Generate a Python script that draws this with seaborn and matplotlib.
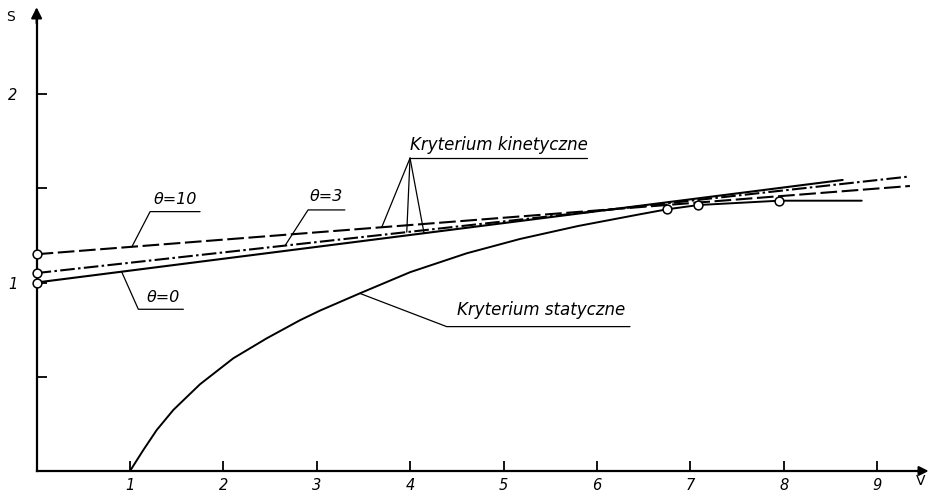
import numpy as np
import matplotlib
matplotlib.use("Agg")
import matplotlib.pyplot as plt
import seaborn as sns

# ---- data ----
theta0_v = [0.0, 8.63]
theta0_s = [1.00, 1.544]
theta3_v = [0.0, 9.32]
theta3_s = [1.05, 1.561]
theta10_v = [0.0, 9.35]
theta10_s = [1.15, 1.512]

static_v = [1.0, 1.142, 1.286, 1.464, 1.749, 2.106, 2.464, 2.82, 3.034, 3.463,
            4.0, 4.605, 5.176, 5.8, 6.46, 6.746, 7.085, 7.952, 8.834]
static_s = [0.0, 0.111, 0.2175, 0.324, 0.46, 0.598, 0.704, 0.80, 0.851, 0.943,
            1.055, 1.155, 1.231, 1.30, 1.362, 1.388, 1.411, 1.434, 1.434]

left_circle_v = [0.0, 0.0, 0.0]
left_circle_s = [1.00, 1.05, 1.15]
right_circle_v = [6.746, 7.085, 7.952]
right_circle_s = [1.388, 1.411, 1.434]

x_ticks = [1, 2, 3, 4, 5, 6, 7, 8, 9]
x_tick_labels = ["1", "2", "3", "4", "5", "6", "7", "8", "9"]
y_ticks = [0.5, 1.0, 1.5, 2.0]
y_tick_labels = ["", "1", "", "2"]

label_theta10 = "θ=10"
label_theta3 = "θ=3"
label_theta0 = "θ=0"
label_kinetic = "Kryterium kinetyczne"
label_static = "Kryterium statyczne"

# ---- style ----
sns.set_style("white")
plt.rcParams["font.family"] = ["DejaVu Sans"]
plt.rcParams["text.color"] = "black"
plt.rcParams["xtick.color"] = "black"
plt.rcParams["ytick.color"] = "black"
plt.rcParams["axes.edgecolor"] = "black"

fig = plt.figure(figsize=(9.4, 4.92), dpi=100)
ax = fig.add_axes([0, 0, 1, 1])
ax.set_facecolor("white")

LW = 1.5
sns.lineplot(x=static_v, y=static_s, ax=ax, color="k", lw=1.4, sort=False)
sns.lineplot(x=theta0_v, y=theta0_s, ax=ax, color="k", lw=LW, sort=False)
sns.lineplot(x=theta3_v, y=theta3_s, ax=ax, color="k", lw=LW, sort=False,
             linestyle=(0, (7, 1.6, 1.2, 1.6)))
sns.lineplot(x=theta10_v, y=theta10_s, ax=ax, color="k", lw=LW, sort=False,
             linestyle=(0, (8, 2.2)))

for cv, cs in [(left_circle_v, left_circle_s), (right_circle_v, right_circle_s)]:
    sns.scatterplot(x=cv, y=cs, ax=ax, marker="o", s=40, zorder=5, clip_on=False)
    pts = ax.collections[-1]
    pts.set_facecolor("white")
    pts.set_edgecolor("black")
    pts.set_linewidth(1.1)

# ---- axes as drawn arrows ----
ax.set_xlim(-0.392, 9.672)
ax.set_ylim(-0.1114, 2.4987)
for side in ["top", "right"]:
    ax.spines[side].set_visible(False)
ax.spines["left"].set_position(("data", 0))
ax.spines["bottom"].set_position(("data", 0))
ax.spines["left"].set_bounds(0, 2.40)
ax.spines["bottom"].set_bounds(0, 9.45)
ax.spines["left"].set_linewidth(1.6)
ax.spines["bottom"].set_linewidth(1.6)
ax.annotate("", xy=(0, 2.475), xytext=(0, 2.36),
            arrowprops=dict(arrowstyle="-|>", color="k", lw=1.5, mutation_scale=16))
ax.annotate("", xy=(9.58, 0), xytext=(9.40, 0),
            arrowprops=dict(arrowstyle="-|>", color="k", lw=1.5, mutation_scale=14))

ax.set_xticks(x_ticks)
ax.set_xticklabels(x_tick_labels, style="italic", fontsize=10.5, color="black")
ax.set_yticks(y_ticks)
ax.set_yticklabels(y_tick_labels, style="italic", fontsize=10.5, color="black")
ax.tick_params(axis="x", which="both", bottom=True, top=False, direction="in",
               length=7, width=1.3, pad=5, colors="black")
ax.tick_params(axis="y", which="both", left=True, right=False, direction="in",
               length=7, width=1.3, pad=14, colors="black")
ax.grid(False)

ax.text(-0.28, 2.41, "S", fontsize=10, ha="center", va="center", color="black")
ax.text(9.47, -0.055, "V", fontsize=10, ha="center", va="center", color="black")

# ---- labels with leaders and underlines ----
TL = 0.9
def leader(target_v, line_v, line_s, ul_x0, ul_x1, ul_y):
    ts = np.interp(target_v, line_v, line_s)
    ax.plot([target_v, ul_x0, ul_x1], [ts, ul_y, ul_y], color="k", lw=TL)

leader(1.02, theta10_v, theta10_s, 1.215, 1.75, 1.376)
ax.text(1.482, 1.438, label_theta10, fontsize=11.5, style="italic",
        ha="center", va="center", color="black")

leader(2.66, theta3_v, theta3_s, 2.906, 3.30, 1.385)
ax.text(3.098, 1.454, label_theta3, fontsize=11.5, style="italic",
        ha="center", va="center", color="black")

leader(0.91, theta0_v, theta0_s, 1.089, 1.571, 0.858)
ax.text(1.353, 0.923, label_theta0, fontsize=11.5, style="italic",
        ha="center", va="center", color="black")

apex_v, apex_s = 3.998, 1.66
for tv, lv, ls_ in [(3.695, theta10_v, theta10_s), (3.963, theta3_v, theta3_s),
                    (4.148, theta0_v, theta0_s)]:
    ax.plot([apex_v, tv], [apex_s, np.interp(tv, lv, ls_)], color="k", lw=TL)
ax.plot([apex_v, 5.893], [apex_s, apex_s], color="k", lw=TL)
ax.text(4.95, 1.729, label_kinetic, fontsize=12, style="italic",
        ha="center", va="center", color="black")

leader(3.46, static_v, static_s, 4.39, 6.353, 0.766)
ax.text(5.40, 0.854, label_static, fontsize=12, style="italic",
        ha="center", va="center", color="black")

fig.savefig("out.png", dpi=100, facecolor="white")
